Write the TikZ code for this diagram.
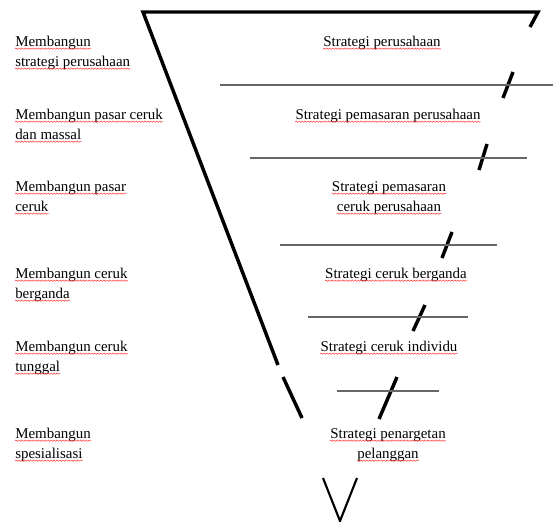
\documentclass[tikz,border=0pt]{standalone}
\usepackage{fontspec}
\setmainfont{Liberation Serif}
\usetikzlibrary{decorations.pathmorphing}

\begin{document}
\begin{tikzpicture}[
		x=0.75pt,y=-0.75pt,
		every node/.style={inner sep=0pt,font=\fontsize{11.2}{15}\selectfont},
		kiri/.style={anchor=base west},
		kanan/.style={anchor=base},
		corong/.style={line width=2.6pt},
		garis/.style={line width=1pt,black!60},
		salah/.style={red!80,line width=0.35pt,decorate,decoration={snake,segment length=2.2pt,amplitude=0.5pt}}
		]
		\useasboundingbox (0,0) rectangle (553,521);
		
		\node[kiri] (k1a) at (15,46) {Membangun};
		\node[kiri] (k1b) at (15,66) {strategi perusahaan};
		\node[kiri] (k2a) at (15,119) {Membangun pasar ceruk};
		\node[kiri] (k2b) at (15,139) {dan massal};
		\node[kiri] (k3a) at (15,191) {Membangun pasar};
		\node[kiri] (k3b) at (15,211) {ceruk};
		\node[kiri] (k4a) at (15,278) {Membangun ceruk};
		\node[kiri] (k4b) at (15,298) {berganda};
		\node[kiri] (k5a) at (15,351) {Membangun ceruk};
		\node[kiri] (k5b) at (15,371) {tunggal};
		\node[kiri] (k6a) at (15,438) {Membangun};
		\node[kiri] (k6b) at (15,458) {spesialisasi};
		
		\node[kanan] (s1) at (382,46) {Strategi perusahaan};
		\node[kanan] (s2) at (388,119) {Strategi pemasaran perusahaan};
		\node[kanan] (s3a) at (389,191) {Strategi pemasaran};
		\node[kanan] (s3b) at (389,211) {ceruk perusahaan};
		\node[kanan] (s4) at (396,278) {Strategi ceruk berganda};
		\node[kanan] (s5) at (389,351) {Strategi ceruk individu};
		\node[kanan] (s6a) at (388,438) {Strategi penargetan};
		\node[kanan] (s6b) at (388,458) {pelanggan};
		
		% garis merah di bawah teks
		\foreach \n in {k1a,k1b,k2a,k2b,k3a,k3b,k4a,k4b,k5a,k5b,k6a,k6b,s1,s2,s3a,s3b,s4,s5,s6a,s6b}
			\draw[salah] ([yshift=-2pt]\n.base west) -- ([yshift=-2pt]\n.base east);
		
		% corong
		\draw[corong] (278,365) -- (143,12) -- (538,12) -- (530,27);
		\draw[corong] (283,377) -- (302,418);
		\draw[corong] (513,72) -- (503,98);
		\draw[corong] (487,144) -- (479,170);
		\draw[corong] (452,232) -- (442,258);
		\draw[corong] (425,305) -- (413,331);
		\draw[corong] (397,377) -- (379,419);
		\draw[line width=1.6pt] (323,478) -- (340,521) -- (357,478);
		
		% batas
		\draw[garis] (220,85) -- (553,85);
		\draw[garis] (250,158) -- (527,158);
		\draw[garis] (280,245) -- (497,245);
		\draw[garis] (308,317) -- (468,317);
		\draw[garis] (337,391) -- (439,391);
\end{tikzpicture}
\end{document}
